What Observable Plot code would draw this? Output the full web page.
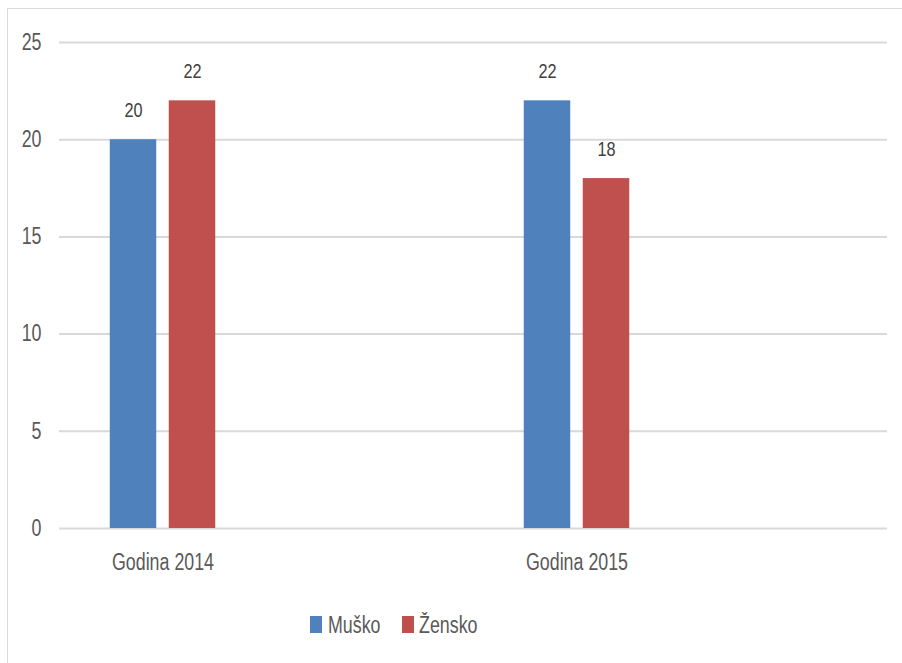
<!DOCTYPE html>
<html>
<head>
<meta charset="utf-8">
<script src="https://cdn.jsdelivr.net/npm/d3@7"></script>
<script src="https://cdn.jsdelivr.net/npm/@observablehq/plot@0.6"></script>
<style>
  html, body { margin: 0; padding: 0; background: #fff; width: 902px; height: 663px; overflow: hidden; position: relative; }
  #frame { position: absolute; left: 7px; top: 8px; width: 1200px; height: 1200px; border-left: 1px solid #d9d9d9; border-top: 1px solid #d9d9d9; }
  #chart { position: absolute; left: 0; top: 0; }
  #legend { position: absolute; left: 0; top: 0; width: 902px; height: 663px;
            font-family: "Liberation Sans", Arial, sans-serif; font-size: 23px; color: #595959; }
  .sw { position: absolute; top: 616px; width: 12px; height: 17px; }
  .lt { position: absolute; top: 609px; line-height: 32px; white-space: nowrap; transform: scaleX(0.775); transform-origin: 0 50%; }
</style>
</head>
<body>
<div id="frame"></div>
<div id="chart"></div>
<div id="legend"></div>
<script>
const categories = ["Godina 2014", "Godina 2015"];
const seriesNames = ["Muško", "Žensko"];
const musko = [20, 22];
const zensko = [22, 18];
const yTicks = [0, 5, 10, 15, 20, 25];
const colors = ["#4f81bd", "#c0504d"];

const values = [musko, zensko];
const rows = [];
seriesNames.forEach((s, si) => categories.forEach((c, ci) => rows.push({category: c, series: s, value: values[si][ci]})));

const font = '"Liberation Sans", Arial, sans-serif';
const squeeze = 0.775;
const barOffset = {"Muško": -29.5, "Žensko": 29.5};
const inset = (207 - 46.5) / 2;

const marks = [
  Plot.ruleY(yTicks, {stroke: "#d9d9d9", strokeWidth: 2})
];
seriesNames.forEach((s, si) => {
  const d = rows.filter(r => r.series === s);
  marks.push(Plot.barY(d, {x: "category", y: "value", fill: colors[si], insetLeft: inset, insetRight: inset, dx: barOffset[s]}));
  marks.push(Plot.text(d, {x: "category", y: "value", text: r => String(r.value), dx: barOffset[s], dy: -22.5,
    lineAnchor: "bottom", fill: "#404040", fontSize: 21, fontFamily: font}));
});
marks.push(Plot.axisY(yTicks, {tickSize: 0, tickPadding: 18, fontSize: 23, fontFamily: font, fill: "#595959", label: null}));
marks.push(Plot.axisX({tickSize: 0, tickPadding: 25, fontSize: 23, fontFamily: font, fill: "#595959", label: null}));

const chart = Plot.plot({
  width: 902,
  height: 600,
  marginLeft: 59,
  marginRight: 15,
  marginTop: 42,
  marginBottom: 72,
  style: {background: "transparent", overflow: "visible"},
  x: {domain: categories, range: [59, 887], paddingInner: 0.5, paddingOuter: 0.25, align: 0},
  y: {domain: [0, 25]},
  marks
});
// condense the text horizontally around each label's anchor, like the reference's narrow type
chart.querySelectorAll("text").forEach(t => {
  const tr = t.getAttribute("transform") || "";
  t.setAttribute("transform", `${tr} scale(${squeeze},1)`);
});
document.getElementById("chart").appendChild(chart);

const legend = document.getElementById("legend");
const legendPos = [[310, 328], [402, 419]];
seriesNames.forEach((s, i) => {
  const sw = document.createElement("span");
  sw.className = "sw";
  sw.style.background = colors[i];
  sw.style.left = legendPos[i][0] + "px";
  const t = document.createElement("span");
  t.className = "lt";
  t.style.left = legendPos[i][1] + "px";
  t.textContent = s;
  legend.appendChild(sw); legend.appendChild(t);
});
</script>
</body>
</html>
